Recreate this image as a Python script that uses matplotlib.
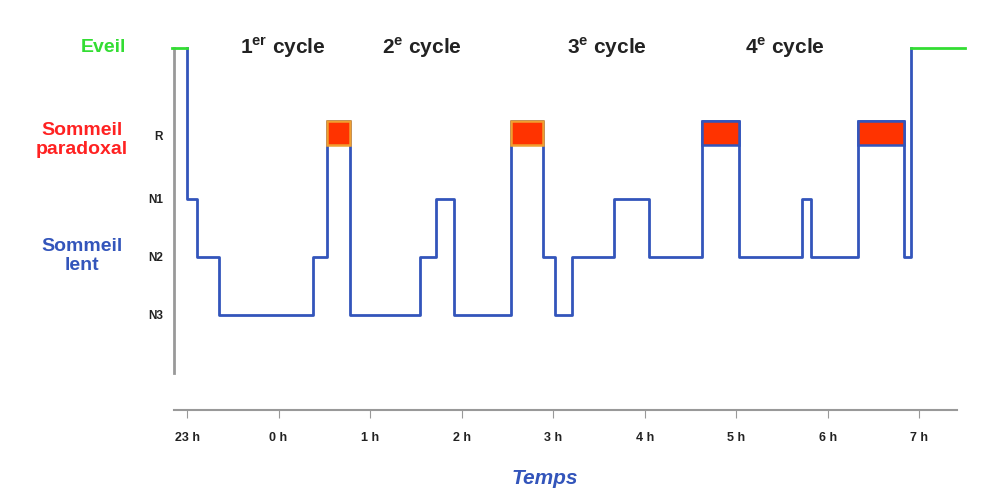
import matplotlib
matplotlib.use("Agg")
import matplotlib.pyplot as plt
from matplotlib.patches import Rectangle

plt.rcParams["font.family"] = ["Liberation Sans", "DejaVu Sans"]
plt.rcParams["mathtext.fontset"] = "custom"
plt.rcParams["mathtext.bf"] = "Liberation Sans:bold"
plt.rcParams["mathtext.rm"] = "Liberation Sans"

# hours after 23 h
t_steps = [0.00, 0.11, 0.35, 1.38, 1.53, 1.78, 2.55, 2.72, 2.92, 3.54, 3.89, 4.02, 4.21,
           4.66, 5.05, 5.62, 6.03, 6.72, 6.82, 7.33, 7.83, 7.91]
stages = ["N1", "N2", "N3", "N2", "R", "N3", "N2", "N1", "N3", "R", "N2", "N3", "N2",
          "N1", "N2", "R", "N2", "N1", "N2", "R", "N2", "W"]
wake_start = (-0.16, 0.0)
wake_end = (7.91, 8.5)
rem_periods = [(1.53, 1.78), (3.54, 3.89), (5.62, 6.03), (7.33, 7.83)]
rem_edge = ["#f0a030", "#f0a030", "#3355bb", "#3355bb"]
level = {"W": 5.6, "R": 4.35, "N1": 3, "N2": 2, "N3": 1}
ytick_labels = ["R", "N1", "N2", "N3"]
ytick_pos = [4.1, 3, 2, 1]
xtick_labels = ["23 h", "0 h", "1 h", "2 h", "3 h", "4 h", "5 h", "6 h", "7 h"]
cycles = [r"1$^{\mathbf{er}}$ cycle", r"2$^{\mathbf{e}}$ cycle", r"3$^{\mathbf{e}}$ cycle", r"4$^{\mathbf{e}}$ cycle"]
cycle_x = [283, 422, 607, 785]

W, H = 1000, 497
fig = plt.figure(figsize=(10, 4.97), dpi=100)
ax = fig.add_axes([174 / W, 1 - 410 / H, (957 - 174) / W, (410 - 30) / H])
ax.set_xlim(-0.142, 8.41)
ax.set_ylim(-0.64, 5.91)

xs = [t_steps[0]]
ys = [level["W"]]
prev = level["W"]
for t, s in zip(t_steps, stages):
    xs += [t, t]
    ys += [prev, level[s]]
    prev = level[s]
xs.append(t_steps[-1])
ys.append(prev)
ax.plot(xs, ys, color="#3355bb", lw=2, zorder=3)
for (a, b), ec in zip(rem_periods, rem_edge):
    ax.add_patch(Rectangle((a, 3.93), b - a, 0.42, facecolor="#ff3300", edgecolor=ec, lw=1.8, zorder=4))
ax.plot(wake_start, [level["W"]] * 2, color="#33dd33", lw=2, zorder=5, clip_on=False)
ax.plot(wake_end, [level["W"]] * 2, color="#33dd33", lw=2, zorder=5, clip_on=False)

for sp in ["top", "right", "left"]:
    ax.spines[sp].set_visible(False)
ax.spines["bottom"].set_color("#999999")
ax.spines["bottom"].set_linewidth(1.5)
ax.plot([-0.142, -0.142], [5.6, 0.0], color="#999999", lw=2, clip_on=False)

ax.set_xticks(range(len(xtick_labels)))
ax.set_xticklabels(xtick_labels, fontsize=9, fontweight="bold", color="#222222")
ax.tick_params(axis="x", color="#999999", length=6, pad=10)
ax.set_yticks(ytick_pos)
ax.set_yticklabels(ytick_labels, fontsize=8.5, fontweight="bold", color="#222222")
ax.tick_params(axis="y", length=0, pad=8)

def ft(x, y, s, **kw):
    fig.text(x / W, 1 - y / H, s, ha="center", va="center", **kw)

for cx, c in zip(cycle_x, cycles):
    ft(cx, 48, c, fontsize=15, fontweight="bold", color="#222222")
ft(103, 47, "Eveil", fontsize=14, fontweight="bold", color="#33dd33")
ft(82, 140, "Sommeil\nparadoxal", fontsize=14, fontweight="bold", color="#ff2222", linespacing=1.1)
ft(82, 256, "Sommeil\nlent", fontsize=14, fontweight="bold", color="#3355bb", linespacing=1.1)
ft(545, 479, "Temps", fontsize=15, fontweight="bold", fontstyle="italic", color="#3355bb")

fig.savefig("out.png", dpi=100)
